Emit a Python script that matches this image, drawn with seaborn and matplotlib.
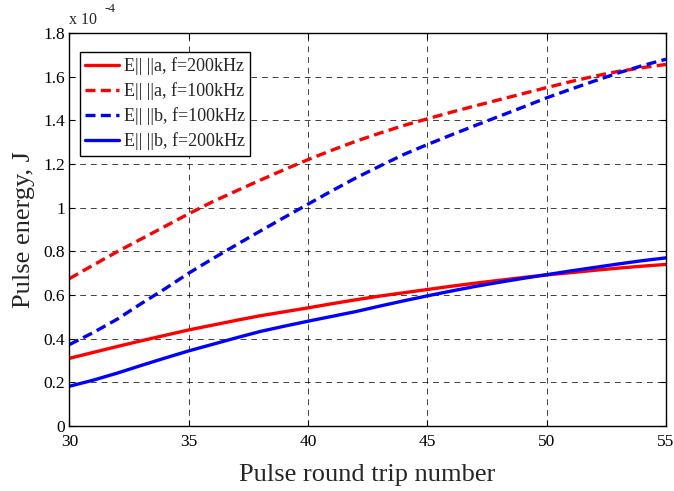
import matplotlib
matplotlib.use("Agg")
import matplotlib.pyplot as plt
from matplotlib.ticker import FormatStrFormatter, MultipleLocator
import numpy as np
import pandas as pd
import seaborn as sns

# Pulse round trip number
trips = [30, 31, 32, 33, 34, 35, 36, 37, 38, 39, 40, 41, 42, 43, 44, 45,
         46, 47, 48, 49, 50, 51, 52, 53, 54, 55]

# Pulse energy in units of 1e-4 J
e_a_200 = [0.310, 0.337, 0.364, 0.390, 0.415, 0.440, 0.462, 0.484, 0.505, 0.523,
           0.541, 0.560, 0.578, 0.595, 0.610, 0.625, 0.640, 0.654, 0.667, 0.680,
           0.692, 0.702, 0.713, 0.723, 0.732, 0.740]
e_a_100 = [0.675, 0.737, 0.798, 0.856, 0.914, 0.972, 1.027, 1.077, 1.126, 1.174,
           1.220, 1.263, 1.304, 1.341, 1.376, 1.407, 1.437, 1.466, 1.494, 1.522,
           1.550, 1.577, 1.602, 1.624, 1.641, 1.656]
e_b_100 = [0.373, 0.428, 0.489, 0.560, 0.628, 0.700, 0.766, 0.830, 0.893, 0.955,
           1.016, 1.077, 1.136, 1.190, 1.243, 1.289, 1.333, 1.376, 1.418, 1.460,
           1.503, 1.542, 1.580, 1.617, 1.650, 1.680]
e_b_200 = [0.182, 0.210, 0.242, 0.277, 0.311, 0.344, 0.374, 0.404, 0.433, 0.457,
           0.480, 0.502, 0.524, 0.549, 0.573, 0.596, 0.618, 0.639, 0.658, 0.676,
           0.693, 0.710, 0.726, 0.742, 0.757, 0.770]

labels = ["E|| ||a, f=200kHz", "E|| ||a, f=100kHz", "E|| ||b, f=100kHz", "E|| ||b, f=200kHz"]
colors = ["#ff0000", "#ff0000", "#0000ff", "#0000ff"]
styles = ["-", "--", "--", "-"]
series = [e_a_200, e_a_100, e_b_100, e_b_200]

sns.set_theme(style="white")
plt.rcParams["font.family"] = ["Liberation Serif", "DejaVu Serif"]

fig = plt.figure(figsize=(6.74, 4.91), dpi=100)
ax = fig.add_axes([0.103, 0.1324, 0.885, 0.8004])

for vals, lab, col, ls in zip(series, labels, colors, styles):
    df = pd.DataFrame({"trip": trips, "energy": vals})
    sns.lineplot(data=df, x="trip", y="energy", ax=ax, color=col, linewidth=2.4,
                 label=lab, estimator=None, sort=False)
    line = ax.get_lines()[-1]
    line.set_linestyle(ls)
    if ls == "--":
        line.set_dashes((3.0, 1.6))

ax.set_xlim(30, 55)
ax.set_ylim(0, 1.8)
ax.xaxis.set_major_locator(MultipleLocator(5))
ax.yaxis.set_major_locator(MultipleLocator(0.2))
ax.yaxis.set_major_formatter(FormatStrFormatter("%g"))

ax.grid(True, color="black", linestyle=(0, (6, 5)), linewidth=0.7, alpha=0.75)
for sp in ax.spines.values():
    sp.set_color("black")
    sp.set_linewidth(1.0)
ax.tick_params(axis="both", which="both", direction="in", length=4, width=0.8,
               top=True, right=True, bottom=True, left=True, labelsize=12.5,
               colors="black")
ax.tick_params(axis="x", pad=6)
ax.tick_params(axis="y", pad=3)

ax.set_xlabel("Pulse round trip number", fontsize=19, labelpad=10)
ax.set_ylabel("Pulse energy, J", fontsize=19, labelpad=6)

ax.text(0.0, 1.012, "x 10", transform=ax.transAxes, fontsize=11.5, ha="left", va="bottom")
ax.text(0.058, 1.045, "-4", transform=ax.transAxes, fontsize=9.5, ha="left", va="bottom")

leg = ax.legend(loc="upper left", bbox_to_anchor=(0.017, 0.952), fontsize=13,
                frameon=True, fancybox=False, handlelength=1.9, handletextpad=0.25,
                borderpad=0.3, labelspacing=0.4, borderaxespad=0.0)
leg.get_frame().set_edgecolor("black")
leg.get_frame().set_linewidth(1.0)
leg.get_frame().set_alpha(1.0)

fig.savefig("out.png", dpi=100)
